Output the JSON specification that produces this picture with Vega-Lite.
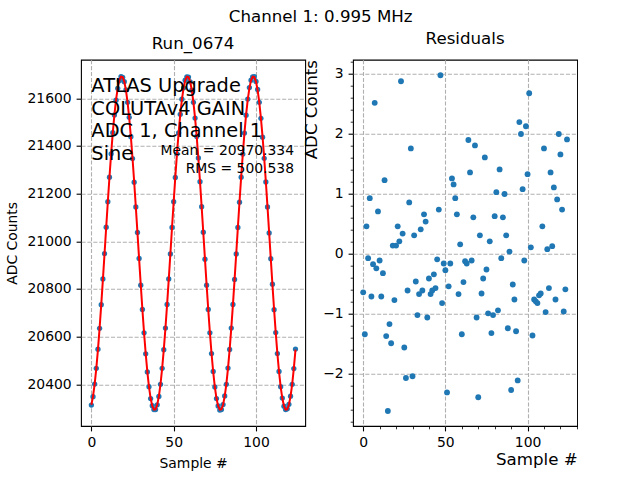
{
  "$schema": "https://vega.github.io/schema/vega-lite/v6.json",
  "autosize": {"type": "pad"},
  "padding": {"left": 5, "top": 8.7, "right": 0, "bottom": 0},
  "bounds": "flush",
  "spacing": 47,
  "title": {
    "text": "Channel 1: 0.995 MHz",
    "fontSize": 16.67,
    "fontWeight": "normal",
    "anchor": "start",
    "align": "center",
    "frame": "group",
    "baseline": "alphabetic",
    "dx": 239.7,
    "offset": -8.4
  },
  "datasets": {
    "samples": [
      {"sample": 0, "adc": 20313, "fit": 20314.0, "residual": -0.65},
      {"sample": 1, "adc": 20348, "fit": 20349.5, "residual": -1.35},
      {"sample": 2, "adc": 20401, "fit": 20401.0, "residual": 0.45},
      {"sample": 3, "adc": 20467, "fit": 20466.9, "residual": -0.08},
      {"sample": 4, "adc": 20547, "fit": 20545.8, "residual": 0.92},
      {"sample": 5, "adc": 20635, "fit": 20635.7, "residual": -0.72},
      {"sample": 6, "adc": 20734, "fit": 20734.3, "residual": -0.18},
      {"sample": 7, "adc": 20842, "fit": 20839.3, "residual": 2.51},
      {"sample": 8, "adc": 20948, "fit": 20948.0, "residual": -0.25},
      {"sample": 9, "adc": 21059, "fit": 21057.9, "residual": 0.70},
      {"sample": 10, "adc": 21166, "fit": 21166.1, "residual": -0.12},
      {"sample": 11, "adc": 21269, "fit": 21270.0, "residual": -0.72},
      {"sample": 12, "adc": 21367, "fit": 21367.1, "residual": -0.33},
      {"sample": 13, "adc": 21456, "fit": 21454.9, "residual": 1.22},
      {"sample": 14, "adc": 21530, "fit": 21531.4, "residual": -1.38},
      {"sample": 15, "adc": 21592, "fit": 21594.5, "residual": -2.63},
      {"sample": 16, "adc": 21642, "fit": 21642.9, "residual": -1.18},
      {"sample": 17, "adc": 21674, "fit": 21675.1, "residual": -1.50},
      {"sample": 18, "adc": 21691, "fit": 21690.6, "residual": 0.13},
      {"sample": 19, "adc": 21688, "fit": 21688.9, "residual": -0.78},
      {"sample": 20, "adc": 21670, "fit": 21670.0, "residual": 0.13},
      {"sample": 21, "adc": 21635, "fit": 21634.5, "residual": 0.45},
      {"sample": 22, "adc": 21583, "fit": 21583.0, "residual": 0.20},
      {"sample": 23, "adc": 21520, "fit": 21517.1, "residual": 2.87},
      {"sample": 24, "adc": 21439, "fit": 21438.2, "residual": 0.33},
      {"sample": 25, "adc": 21347, "fit": 21348.3, "residual": -1.57},
      {"sample": 26, "adc": 21248, "fit": 21249.7, "residual": -2.08},
      {"sample": 27, "adc": 21144, "fit": 21144.7, "residual": -0.62},
      {"sample": 28, "adc": 21037, "fit": 21036.0, "residual": 0.85},
      {"sample": 29, "adc": 20928, "fit": 20926.1, "residual": 1.75},
      {"sample": 30, "adc": 20816, "fit": 20817.9, "residual": -2.05},
      {"sample": 31, "adc": 20714, "fit": 20714.0, "residual": 0.30},
      {"sample": 32, "adc": 20616, "fit": 20616.9, "residual": -0.47},
      {"sample": 33, "adc": 20528, "fit": 20529.1, "residual": -1.03},
      {"sample": 34, "adc": 20452, "fit": 20452.6, "residual": -0.68},
      {"sample": 35, "adc": 20390, "fit": 20389.5, "residual": 0.40},
      {"sample": 36, "adc": 20340, "fit": 20341.1, "residual": -0.62},
      {"sample": 37, "adc": 20310, "fit": 20308.9, "residual": 0.65},
      {"sample": 38, "adc": 20294, "fit": 20293.4, "residual": 0.53},
      {"sample": 39, "adc": 20294, "fit": 20295.1, "residual": -1.07},
      {"sample": 40, "adc": 20314, "fit": 20314.0, "residual": -0.42},
      {"sample": 41, "adc": 20349, "fit": 20349.5, "residual": -0.68},
      {"sample": 42, "adc": 20400, "fit": 20401.0, "residual": -0.62},
      {"sample": 43, "adc": 20467, "fit": 20466.9, "residual": -0.35},
      {"sample": 44, "adc": 20545, "fit": 20545.8, "residual": -0.58},
      {"sample": 45, "adc": 20636, "fit": 20635.7, "residual": -0.10},
      {"sample": 46, "adc": 20735, "fit": 20734.3, "residual": 0.73},
      {"sample": 47, "adc": 20842, "fit": 20839.3, "residual": 2.97},
      {"sample": 48, "adc": 20947, "fit": 20948.0, "residual": -0.83},
      {"sample": 49, "adc": 21058, "fit": 21057.9, "residual": -0.17},
      {"sample": 50, "adc": 21166, "fit": 21166.1, "residual": -0.28},
      {"sample": 51, "adc": 21268, "fit": 21270.0, "residual": -2.32},
      {"sample": 52, "adc": 21367, "fit": 21367.1, "residual": -0.55},
      {"sample": 53, "adc": 21455, "fit": 21454.9, "residual": -0.17},
      {"sample": 54, "adc": 21533, "fit": 21531.4, "residual": 1.25},
      {"sample": 55, "adc": 21596, "fit": 21594.5, "residual": 1.15},
      {"sample": 56, "adc": 21644, "fit": 21642.9, "residual": 0.92},
      {"sample": 57, "adc": 21676, "fit": 21675.1, "residual": 0.65},
      {"sample": 58, "adc": 21690, "fit": 21690.6, "residual": -0.68},
      {"sample": 59, "adc": 21689, "fit": 21688.9, "residual": 0.15},
      {"sample": 60, "adc": 21669, "fit": 21670.0, "residual": -1.35},
      {"sample": 61, "adc": 21634, "fit": 21634.5, "residual": -0.48},
      {"sample": 62, "adc": 21583, "fit": 21583.0, "residual": -0.13},
      {"sample": 63, "adc": 21517, "fit": 21517.1, "residual": -0.17},
      {"sample": 64, "adc": 21440, "fit": 21438.2, "residual": 1.89},
      {"sample": 65, "adc": 21350, "fit": 21348.3, "residual": 1.35},
      {"sample": 66, "adc": 21250, "fit": 21249.7, "residual": -0.12},
      {"sample": 67, "adc": 21145, "fit": 21144.7, "residual": 0.60},
      {"sample": 68, "adc": 21038, "fit": 21036.0, "residual": 1.80},
      {"sample": 69, "adc": 20925, "fit": 20926.1, "residual": -1.07},
      {"sample": 70, "adc": 20816, "fit": 20817.9, "residual": -2.40},
      {"sample": 71, "adc": 20714, "fit": 20714.0, "residual": 0.30},
      {"sample": 72, "adc": 20616, "fit": 20616.9, "residual": -0.67},
      {"sample": 73, "adc": 20529, "fit": 20529.1, "residual": -0.42},
      {"sample": 74, "adc": 20454, "fit": 20452.6, "residual": 1.60},
      {"sample": 75, "adc": 20389, "fit": 20389.5, "residual": -0.27},
      {"sample": 76, "adc": 20340, "fit": 20341.1, "residual": -1.00},
      {"sample": 77, "adc": 20309, "fit": 20308.9, "residual": 0.20},
      {"sample": 78, "adc": 20292, "fit": 20293.4, "residual": -1.33},
      {"sample": 79, "adc": 20294, "fit": 20295.1, "residual": -1.03},
      {"sample": 80, "adc": 20315, "fit": 20314.0, "residual": 0.62},
      {"sample": 81, "adc": 20351, "fit": 20349.5, "residual": 1.02},
      {"sample": 82, "adc": 20400, "fit": 20401.0, "residual": -0.95},
      {"sample": 83, "adc": 20468, "fit": 20466.9, "residual": 1.40},
      {"sample": 84, "adc": 20546, "fit": 20545.8, "residual": -0.08},
      {"sample": 85, "adc": 20636, "fit": 20635.7, "residual": 0.60},
      {"sample": 86, "adc": 20735, "fit": 20734.3, "residual": 0.99},
      {"sample": 87, "adc": 20840, "fit": 20839.3, "residual": 0.30},
      {"sample": 88, "adc": 20947, "fit": 20948.0, "residual": -1.25},
      {"sample": 89, "adc": 21058, "fit": 21057.9, "residual": 0.03},
      {"sample": 90, "adc": 21164, "fit": 21166.1, "residual": -2.28},
      {"sample": 91, "adc": 21269, "fit": 21270.0, "residual": -0.52},
      {"sample": 92, "adc": 21366, "fit": 21367.1, "residual": -0.77},
      {"sample": 93, "adc": 21454, "fit": 21454.9, "residual": -1.30},
      {"sample": 94, "adc": 21529, "fit": 21531.4, "residual": -2.12},
      {"sample": 95, "adc": 21597, "fit": 21594.5, "residual": 2.19},
      {"sample": 96, "adc": 21645, "fit": 21642.9, "residual": 1.99},
      {"sample": 97, "adc": 21676, "fit": 21675.1, "residual": 1.07},
      {"sample": 98, "adc": 21690, "fit": 21690.6, "residual": -0.12},
      {"sample": 99, "adc": 21691, "fit": 21688.9, "residual": 2.12},
      {"sample": 100, "adc": 21671, "fit": 21670.0, "residual": 1.32},
      {"sample": 101, "adc": 21637, "fit": 21634.5, "residual": 2.67},
      {"sample": 102, "adc": 21583, "fit": 21583.0, "residual": 0.10},
      {"sample": 103, "adc": 21516, "fit": 21517.1, "residual": -1.37},
      {"sample": 104, "adc": 21437, "fit": 21438.2, "residual": -0.77},
      {"sample": 105, "adc": 21348, "fit": 21348.3, "residual": -0.80},
      {"sample": 106, "adc": 21249, "fit": 21249.7, "residual": -0.83},
      {"sample": 107, "adc": 21144, "fit": 21144.7, "residual": -0.70},
      {"sample": 108, "adc": 21035, "fit": 21036.0, "residual": -0.67},
      {"sample": 109, "adc": 20927, "fit": 20926.1, "residual": 0.45},
      {"sample": 110, "adc": 20820, "fit": 20817.9, "residual": 1.75},
      {"sample": 111, "adc": 20713, "fit": 20714.0, "residual": -0.98},
      {"sample": 112, "adc": 20617, "fit": 20616.9, "residual": 0.07},
      {"sample": 113, "adc": 20529, "fit": 20529.1, "residual": -0.58},
      {"sample": 114, "adc": 20454, "fit": 20452.6, "residual": 1.35},
      {"sample": 115, "adc": 20390, "fit": 20389.5, "residual": 0.12},
      {"sample": 116, "adc": 20342, "fit": 20341.1, "residual": 1.10},
      {"sample": 117, "adc": 20308, "fit": 20308.9, "residual": -0.77},
      {"sample": 118, "adc": 20294, "fit": 20293.4, "residual": 0.90},
      {"sample": 119, "adc": 20297, "fit": 20295.1, "residual": 1.99},
      {"sample": 120, "adc": 20316, "fit": 20314.0, "residual": 1.65},
      {"sample": 121, "adc": 20350, "fit": 20349.5, "residual": 0.73},
      {"sample": 122, "adc": 20400, "fit": 20401.0, "residual": -0.97},
      {"sample": 123, "adc": 20466, "fit": 20466.9, "residual": -0.60},
      {"sample": 124, "adc": 20548, "fit": 20545.8, "residual": 1.90}
    ],
    "heading": [
      {"note": "ATLAS Upgrade", "sample": 0, "adc": 21628},
      {"note": "COLUTAv4 GAIN", "sample": 0, "adc": 21532},
      {"note": "ADC 1, Channel 1", "sample": 0, "adc": 21437},
      {"note": "Sine", "sample": 0, "adc": 21342}
    ],
    "stats": [
      {"note": "Mean = 20970.334", "sample": 123.1, "adc": 21362},
      {"note": "RMS = 500.538", "sample": 123.1, "adc": 21288}
    ]
  },
  "hconcat": [
    {
      "width": 224.2,
      "height": 366.3,
      "title": {"text": "Run_0674"},
      "layer": [
        {
          "data": {"name": "samples"},
          "mark": {"type": "point", "filled": true, "opacity": 1, "size": 28, "color": "#1f77b4", "strokeWidth": 0},
          "encoding": {
            "x": {
              "field": "sample", "type": "quantitative",
              "scale": {"domain": [-6.3, 129.9], "nice": false, "zero": false},
              "axis": {
                "values": [0, 50, 100],
                "title": "Sample #",
                "titleFontSize": 13.9,
                "titleX": 112.1, "titleY": 41,
                "titleAlign": "center", "titleBaseline": "alphabetic"
              }
            },
            "y": {
              "field": "adc", "type": "quantitative",
              "scale": {"domain": [20225, 21762], "nice": false, "zero": false},
              "axis": {
                "values": [20400, 20600, 20800, 21000, 21200, 21400, 21600],
                "format": "d",
                "title": "ADC Counts",
                "titleFontSize": 13.9,
                "titleX": -68.3, "titleY": 183.2,
                "titleAlign": "center", "titleBaseline": "middle"
              }
            }
          }
        },
        {
          "data": {"name": "samples"},
          "mark": {"type": "line", "color": "#ff0000", "strokeWidth": 2},
          "encoding": {
            "x": {"field": "sample", "type": "quantitative"},
            "y": {"field": "fit", "type": "quantitative"}
          }
        },
        {
          "data": {"name": "heading"},
          "mark": {"type": "text", "align": "left", "baseline": "alphabetic", "fontSize": 19.4, "color": "black"},
          "encoding": {
            "x": {"field": "sample", "type": "quantitative"},
            "y": {"field": "adc", "type": "quantitative"},
            "text": {"field": "note"}
          }
        },
        {
          "data": {"name": "stats"},
          "mark": {"type": "text", "align": "right", "baseline": "alphabetic", "fontSize": 13.9, "color": "black"},
          "encoding": {
            "x": {"field": "sample", "type": "quantitative"},
            "y": {"field": "adc", "type": "quantitative"},
            "text": {"field": "note"}
          }
        }
      ]
    },
    {
      "width": 224.2,
      "height": 366.3,
      "title": {"text": "Residuals"},
      "data": {"name": "samples"},
      "mark": {"type": "point", "filled": true, "opacity": 1, "size": 34, "color": "#1f77b4", "strokeWidth": 0},
      "encoding": {
        "x": {
          "field": "sample", "type": "quantitative",
          "scale": {"domain": [-6.2, 130.2], "nice": false, "zero": false},
          "axis": {
            "values": [0, 10, 20, 30, 40, 50, 60, 70, 80, 90, 100, 110, 120, 130],
            "labelExpr": "datum.value % 50 === 0 ? datum.label : ''",
            "tickSize": {"condition": {"test": "datum.value % 50 === 0", "value": 4.9}, "value": 2.8},
            "tickWidth": {"condition": {"test": "datum.value % 50 === 0", "value": 1.1}, "value": 0.8},
            "gridOpacity": {"condition": {"test": "datum.value % 50 === 0", "value": 1}, "value": 0},
            "title": "Sample #",
            "titleFontSize": 16.67,
            "titleX": 224.2, "titleY": 38,
            "titleAlign": "right", "titleBaseline": "alphabetic"
          }
        },
        "y": {
          "field": "residual", "type": "quantitative",
          "scale": {"domain": [-2.88, 3.23], "nice": false, "zero": false},
          "axis": {
            "values": [-2.8, -2.6, -2.4, -2.2, -2, -1.8, -1.6, -1.4, -1.2, -1, -0.8, -0.6, -0.4, -0.2, 0, 0.2, 0.4, 0.6, 0.8, 1, 1.2, 1.4, 1.6, 1.8, 2, 2.2, 2.4, 2.6, 2.8, 3, 3.2],
            "labelExpr": "abs(datum.value - round(datum.value)) < 0.01 ? replace(format(round(datum.value), 'd'), '-', '\u2212') : ''",
            "tickSize": {"condition": {"test": "abs(datum.value - round(datum.value)) < 0.01", "value": 4.9}, "value": 2.8},
            "tickWidth": {"condition": {"test": "abs(datum.value - round(datum.value)) < 0.01", "value": 1.1}, "value": 0.8},
            "gridOpacity": {"condition": {"test": "abs(datum.value - round(datum.value)) < 0.01", "value": 1}, "value": 0},
            "title": "ADC Counts",
            "titleFontSize": 16.67,
            "titleX": -41.5, "titleY": 49.5,
            "titleAlign": "center", "titleBaseline": "middle"
          }
        }
      }
    }
  ],
  "config": {
    "font": "DejaVu Sans",
    "view": {"stroke": "black", "strokeWidth": 1.1},
    "axis": {
      "domain": false,
      "grid": true,
      "gridColor": "#b0b0b0",
      "gridDash": [4.1, 1.8],
      "gridWidth": 1.1,
      "ticks": true,
      "tickColor": "black",
      "tickWidth": 1.1,
      "tickSize": 4.9,
      "labelPadding": 4.9,
      "labelFont": "DejaVu Sans",
      "labelFontSize": 13.9,
      "labelColor": "black",
      "labelFlush": false,
      "labelOverlap": false,
      "titleFont": "DejaVu Sans",
      "titleFontWeight": "normal",
      "titleColor": "black"
    },
    "title": {
      "font": "DejaVu Sans",
      "fontSize": 16.67,
      "fontWeight": "normal",
      "color": "black",
      "anchor": "middle",
      "baseline": "alphabetic",
      "offset": 7
    }
  }
}
